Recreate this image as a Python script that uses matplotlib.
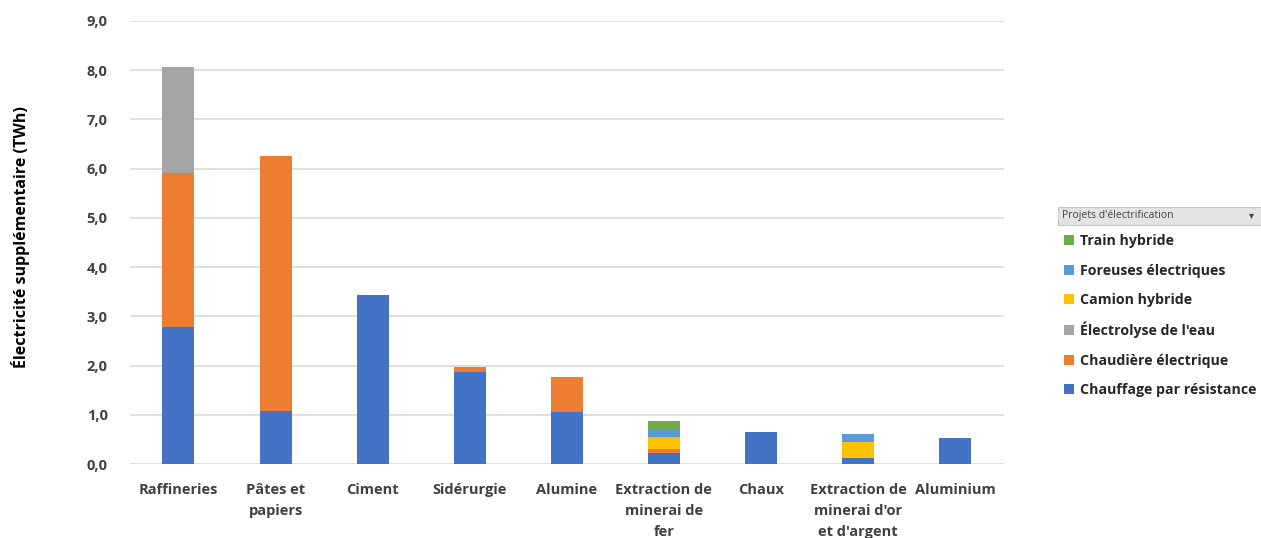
import numpy as np
import matplotlib.pyplot as plt
from matplotlib.patches import Patch, Rectangle

plt.rcParams['font.family'] = ['Open Sans', 'DejaVu Sans']

# Catégories (axe X)
categories = ["Raffineries", "Pâtes et\npapiers", "Ciment", "Sidérurgie", "Alumine",
              "Extraction de\nminerai de\nfer", "Chaux",
              "Extraction de\nminerai d'or\net d'argent", "Aluminium"]

# Séries empilées (TWh), de bas en haut
chauffage_resistance = [2.78, 1.08, 3.43, 1.87, 1.06, 0.23, 0.66, 0.13, 0.53]
chaudiere_electrique = [3.13, 5.18, 0.0, 0.10, 0.71, 0.07, 0.0, 0.0, 0.0]
electrolyse_eau = [2.16, 0.0, 0.0, 0.0, 0.0, 0.0, 0.0, 0.0, 0.0]
camion_hybride = [0.0, 0.0, 0.0, 0.0, 0.0, 0.24, 0.0, 0.32, 0.0]
foreuses_electriques = [0.0, 0.0, 0.0, 0.0, 0.0, 0.17, 0.0, 0.15, 0.0]
train_hybride = [0.0, 0.0, 0.0, 0.0, 0.0, 0.16, 0.0, 0.0, 0.0]

series = [
    ("Chauffage par résistance", chauffage_resistance, "#4472C4"),
    ("Chaudière électrique", chaudiere_electrique, "#ED7D31"),
    ("Électrolyse de l'eau", electrolyse_eau, "#A5A5A5"),
    ("Camion hybride", camion_hybride, "#FFC000"),
    ("Foreuses électriques", foreuses_electriques, "#5B9BD5"),
    ("Train hybride", train_hybride, "#70AD47"),
]

fig = plt.figure(figsize=(12.61, 5.38), dpi=100)
ax = fig.add_axes([0.103, 0.1375, 0.693, 0.8235])

x = np.arange(len(categories))
bottom = np.zeros(len(categories))
for name, vals, col in series:
    vals = np.array(vals)
    ax.bar(x, vals, 0.33, bottom=bottom, color=col, label=name, zorder=3)
    bottom += vals

ax.set_xlim(-0.5, len(categories) - 0.5)
ax.set_ylim(0, 9)
ax.set_yticks(np.arange(0, 9.1, 1))
ax.set_yticklabels([f"{v:.1f}".replace(".", ",") for v in np.arange(0, 9.1, 1)])
ax.set_xticks(x)
ax.set_xticklabels(categories, linespacing=1.6)
ax.grid(axis="y", color="#D9D9D9", linewidth=1.2, zorder=0)
for s in ax.spines.values():
    s.set_visible(False)
ax.tick_params(length=0, colors="#404040", labelsize=10.5)
ax.tick_params(axis="y", pad=16)
ax.tick_params(axis="x", pad=14)
for lab in ax.get_xticklabels() + ax.get_yticklabels():
    lab.set_fontweight("bold")

fig.text(0.016, 0.56, "Électricité supplémentaire (TWh)", rotation=90,
         ha="center", va="center", fontsize=11.5, fontweight="bold", color="#000000")

# Légende (ordre inversé comme dans Excel)
handles = [Patch(facecolor=col, label=name) for name, _, col in series][::-1]
leg = fig.legend(handles=handles, loc="upper left", bbox_to_anchor=(0.834, 0.588),
                 frameon=False, fontsize=10.2, handlelength=0.7, handleheight=0.7,
                 handletextpad=0.4, labelspacing=1.07)
for t in leg.get_texts():
    t.set_fontweight("bold")
    t.set_color("#262626")

# Bouton de filtre du tableau croisé
fig.patches.append(Rectangle((0.8390, 0.582), 0.161, 0.034, transform=fig.transFigure,
                             facecolor="#E4E4E4", edgecolor="#C8C8C8", linewidth=0.8))
fig.text(0.842, 0.599, "Projets d'électrification", fontsize=7.5, va="center",
         ha="left", color="#404040")
fig.text(0.992, 0.599, "▾", fontsize=7, va="center", ha="center", color="#404040")

fig.savefig("out.png", dpi=100)
